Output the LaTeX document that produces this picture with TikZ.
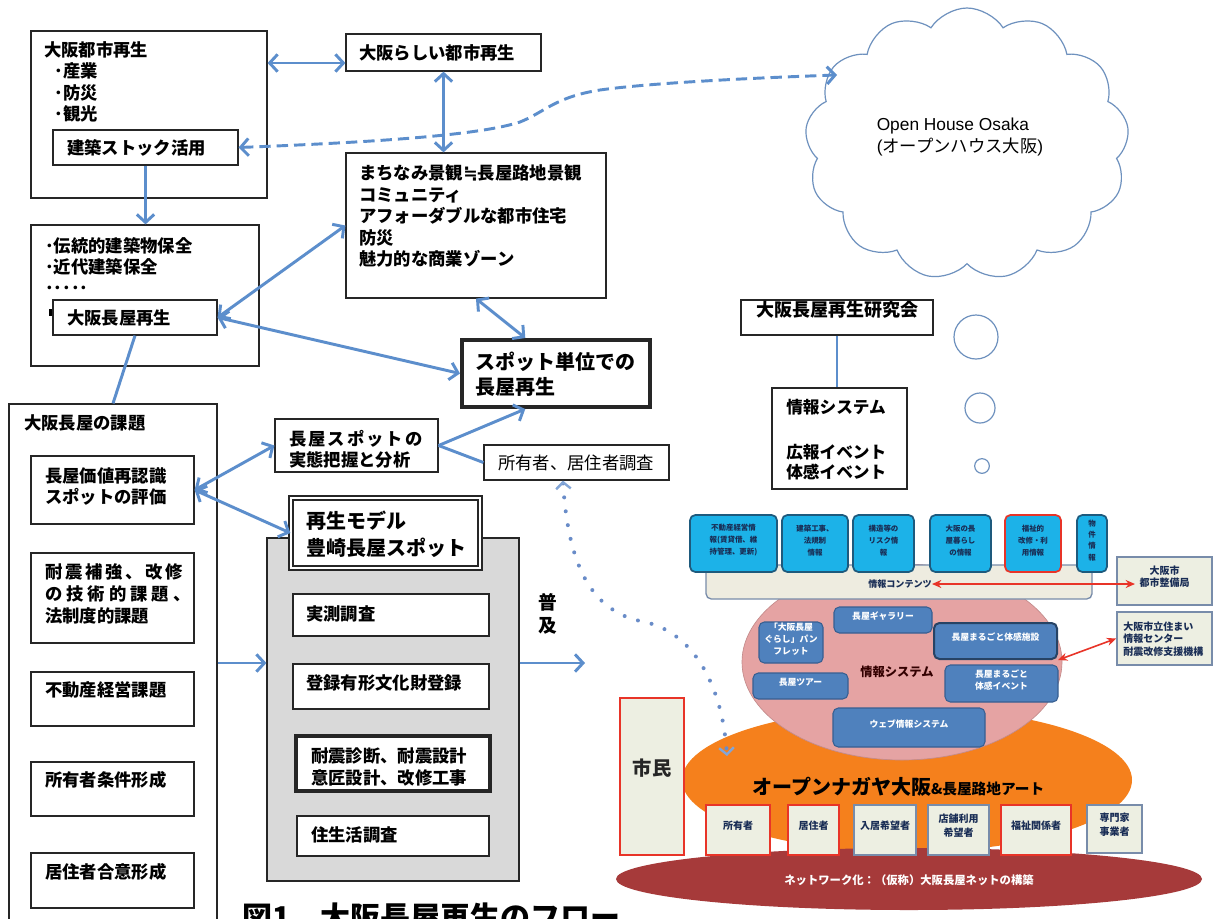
\documentclass[tikz,border=0pt]{standalone}
\usepackage{fontspec}
\setmainfont{Noto Sans CJK JP}
\newfontfamily\arialf{Liberation Sans}
\newfontfamily\dejavu{DejaVu Sans}
\usetikzlibrary{fit,arrows.meta,shapes.symbols,shapes.geometric,calc}
\definecolor{ablue}{RGB}{92,142,204}
\definecolor{dblue}{RGB}{105,140,200}
\definecolor{lblue}{RGB}{130,165,215}
\definecolor{cblue}{RGB}{110,145,190}
\definecolor{gfill}{RGB}{217,217,217}
\definecolor{cyanf}{RGB}{28,178,232}
\definecolor{cyand}{RGB}{30,90,125}
\definecolor{steelf}{RGB}{79,129,189}
\definecolor{steeld}{RGB}{55,95,145}
\definecolor{pinkf}{RGB}{229,163,163}
\definecolor{orangef}{RGB}{245,128,28}
\definecolor{dredf}{RGB}{166,58,58}
\definecolor{beigef}{RGB}{238,236,224}
\definecolor{bgray}{RGB}{120,140,170}
\definecolor{lboxf}{RGB}{237,239,226}
\definecolor{rred}{RGB}{232,52,40}
\definecolor{navy}{RGB}{25,45,85}
\newcommand\fsz[2]{\fontsize{#1}{#2}\selectfont}
\begin{document}
\begin{tikzpicture}[x=0.75pt,y=-0.75pt,
 box/.style={draw=black!85,line width=0.9pt,inner sep=0pt},
 wbox/.style={box,fill=white},
 tx/.style={inner sep=0pt,align=left,anchor=west,font=\fsz{13}{16}\bfseries},
 conn/.style={draw=ablue,line width=2.2pt},
 >={Straight Barb[length=6pt,width=13pt]},
 cyb/.style={draw=cyand,line width=1.3pt,fill=cyanf,rounded corners=4pt,inner sep=0pt,align=center,font=\fsz{5.6}{9}\bfseries,text=navy},
 stb/.style={draw=steeld,line width=0.8pt,fill=steelf,rounded corners=4pt,inner sep=0pt,align=center,font=\fsz{6.6}{9}\bfseries,text=white},
 lb/.style={fill=lboxf,line width=1.5pt,inner sep=0pt,align=center,font=\fsz{7.5}{10}\bfseries,text=navy},
 redarr/.style={draw=rred,line width=1.2pt,arrows={Stealth[length=7pt,width=6pt]-Stealth[length=7pt,width=6pt]}},
 bub/.style={circle,draw=cblue,line width=0.9pt,inner sep=0pt}
]
\useasboundingbox (0,0) rectangle (1213,918);
\fill[white] (0,0) rectangle (1213,918);

% ---------- left column ----------
\node[box,fit={(31,31)(267,198)}] (A) {};
\node[tx] (At) at (44,82) {大阪都市再生\\\hspace*{8pt}･産業\\\hspace*{8pt}･防災\\\hspace*{8pt}･観光};
\node[wbox,fit={(53,130)(238,165)}] (A2) {};
\node[tx] (A2t) at (67,148) {建築ストック活用};
\node[box,fit={(346,34)(541,71)}] (B) {};
\node[tx] (Bt) at (359,53) {大阪らしい都市再生};
\node[box,fit={(346,153)(606,298)}] (C) {};
\node[tx,font=\fsz{13}{16.1}\bfseries] (Ct) at (359,216) {まちなみ景観{\dejavu\bfseries ≒}長屋路地景観\\コミュニティ\\アフォーダブルな都市住宅\\防災\\魅力的な商業ゾーン};
\node[box,fit={(31,225)(259,366)}] (D) {};
\node[tx,font=\fsz{13}{15.75}\bfseries] (Dt) at (45,266) {･伝統的建築物保全\\･近代建築保全\\･････};
\fill (49,309) rectangle (53,316);
\node[wbox,fit={(53,300)(217,335)}] (D2) {};
\node[tx] (D2t) at (67,318) {大阪長屋再生};
\node[wbox,line width=3pt,fit={(462,340)(650,407)}] (E) {};
\node[tx,font=\fsz{15}{18.75}\bfseries] (Et) at (475,374.5) {スポット単位での\\長屋再生};

\node[box,fit={(9,404)(217,940)}] (K) {};
\node[tx] (Kt) at (24,423) {大阪長屋の課題};
\node[box,fit={(31,456)(194,524)}] (K1) {};
\node[tx] (K1t) at (45,486.5) {長屋価値再認識\\スポットの評価};
\node[box,fit={(31,553)(194,643)}] (K2) {};
\node[tx,font=\fsz{13}{16.5}\bfseries] (K2t) at (45,594) {\makebox[103pt]{耐\hfill 震\hfill 補\hfill 強\hfill 、\hfill 改\hfill 修}\\\makebox[109pt]{の\hfill 技\hfill 術\hfill 的\hfill 課\hfill 題\hfill 、}\\法制度的課題};
\node[box,fit={(31,672)(194,726)}] (K3) {};
\node[tx] (K3t) at (45,690) {不動産経営課題};
\node[box,fit={(31,762)(194,816)}] (K4) {};
\node[tx] (K4t) at (45,780) {所有者条件形成};
\node[box,fit={(31,853)(194,908)}] (K5) {};
\node[tx] (K5t) at (45,872) {居住者合意形成};

\node[box,fit={(275,419)(438,472)}] (J) {};
\node[tx] (Jt) at (289,449) {\makebox[100pt]{長\hfill 屋\hfill ス\hfill ポ\hfill ッ\hfill ト\hfill の}\\実態把握と分析};
\node[box,fit={(484,445)(669,480)}] (S) {};
\node[tx,font=\fsz{13}{16}] (St) at (498,463) {所有者、居住者調査};

\node[box,fill=gfill,fit={(267,538)(519,881)}] (G) {};
\node[box,double,double distance=2.2pt,fill=white,fit={(291,498)(480,568)}] (SM) {};
\node[tx,font=\fsz{15}{20}\bfseries] (SMt) at (306,534.5) {再生モデル\\豊崎長屋スポット};
\node[wbox,fit={(293,594)(489,636)}] (G1) {};
\node[tx] (G1t) at (306,614) {実測調査};
\node[wbox,fit={(293,664)(489,709)}] (G2) {};
\node[tx] (G2t) at (306,683) {登録有形文化財登録};
\node[wbox,line width=2.5pt,fit={(296,736)(490,791)}] (G3) {};
\node[tx,font=\fsz{13}{16.5}\bfseries] (G3t) at (311,767) {耐震診断、耐震設計\\意匠設計、改修工事};
\node[wbox,fit={(297,816)(489,856)}] (G4) {};
\node[tx] (G4t) at (311,835) {住生活調査};
\node[inner sep=0pt,align=center,font=\fsz{14}{17}\bfseries] (F) at (548,614) {普\\及};

\node[inner sep=0pt,anchor=west,font=\fsz{22.5}{26}\bfseries] (CAP) at (242,917) {図1　大阪長屋再生のフロー};

% ---------- cloud and bubbles ----------
\node[cloud,draw=cblue,line width=0.9pt,cloud puffs=13,cloud puff arc=115,aspect=1.19,minimum width=243pt,minimum height=204pt,inner sep=0pt] (OH) at (967,144) {};
\node[inner sep=0pt,align=left,font=\fsz{13}{16}] (OHt) at (960,137) {{\arialf Open House Osaka}\\{\arialf (}オープンハウス大阪{\arialf )}};
\node[bub,minimum size=33pt] (c1) at (976,337) {};
\node[bub,minimum size=22.5pt] (c2) at (980,408) {};
\node[bub,minimum size=11pt] (c3) at (982,466) {};

\node[box,fit={(741,300)(933,335)},font=\fsz{13.5}{16}\bfseries] (R) {大阪長屋再生研究会};
\node[box,fit={(772,388)(907,489)}] (I) {};
\node[tx,font=\fsz{12.5}{15}\bfseries] (It) at (786,439.5) {情報システム\\[18.75pt]広報イベント\\体感イベント};

% ---------- right diagram ----------
\node[ellipse,fill=orangef,minimum width=337.5pt,minimum height=108pt,inner sep=0pt] (OR) at (907,780) {};
\node[ellipse,fill=pinkf,draw=pinkf!85!black,line width=0.5pt,minimum width=240pt,minimum height=147pt,inner sep=0pt] (PK) at (902,662) {};
\node[fill=beigef,draw=bgray,line width=1pt,rounded corners=4pt,inner sep=0pt,fit={(706,565)(1092,599)}] (BAR) {};
\node[font=\fsz{6.8}{8}\bfseries,text=navy,inner sep=0pt] (BARt) at (900,584) {情報コンテンツ};
\node[cyb,fit={(690,515)(777,572)}] (cb1) {不動産経営情\\報(賃貸借、維\\持管理、更新)};
\node[cyb,fit={(782,515)(848,572)}] (cb2) {建築工事、\\法規制\\情報};
\node[cyb,fit={(853,515)(914,572)}] (cb3) {構造等の\\リスク情\\報};
\node[cyb,fit={(930,515)(991,572)}] (cb4) {大阪の長\\屋暮らし\\の情報};
\node[cyb,draw=rred,fit={(1005,515)(1061,572)}] (cb5) {福祉的\\改修・利\\用情報};
\node[cyb,fit={(1077,515)(1107,572)},font=\fsz{5.6}{8.5}\bfseries] (cb6) {物\\件\\情\\報};

\node[stb,fit={(759,622)(823,663)}] (s1) {「大阪長屋\\ぐらし」パン\\フレット};
\node[stb,fit={(834,607)(932,633)}] (s2) {長屋ギャラリー};
\node[stb,draw=steeld!70!black,line width=1.5pt,fit={(934,623)(1057,659)}] (s3) {長屋まるごと体感施設};
\node[stb,fit={(945,665)(1058,702)}] (s4) {長屋まるごと\\体感イベント};
\node[stb,fit={(753,673)(848,699)}] (s5) {長屋ツアー};
\node[stb,fit={(833,708)(985,747)}] (s6) {ウェブ情報システム};
\node[font=\fsz{9.2}{11}\bfseries,text=black!80!red,inner sep=0pt] (PKt) at (897,672) {情報システム};

\node[fill=lboxf,draw=bgray,line width=1.2pt,inner sep=0pt,align=center,font=\fsz{7.5}{9.5}\bfseries,text=navy,fit={(1117,557)(1212,605)}] (RB1) {大阪市\\都市整備局};
\node[fill=lboxf,draw=bgray,line width=1.2pt,inner sep=0pt,fit={(1117,612)(1212,665)}] (RB2) {};
\node[inner sep=0pt,anchor=west,align=left,font=\fsz{7.5}{9.4}\bfseries,text=navy] (RB2t) at (1123,639) {大阪市立住まい\\情報センター\\耐震改修支援機構};

\node[ellipse,fill=dredf,minimum width=439.5pt,minimum height=46.5pt,inner sep=0pt] (NW) at (909,879) {};
\node[font=\fsz{8.5}{10}\bfseries,text=white,inner sep=0pt] (NWt) at (909,880) {ネットワーク化：（仮称）大阪長屋ネットの構築};
\node[inner sep=0pt,anchor=west] (ORt) at (752,787) {{\fsz{15}{18}\bfseries オープンナガヤ大阪}{\fsz{11}{13}\bfseries\&長屋路地アート}};

\node[lb,draw=rred,fit={(706,805)(770,855)}] (b1) {所有者};
\node[lb,draw=rred,fit={(788,805)(839,855)}] (b2) {居住者};
\node[lb,draw=bgray,fit={(854,805)(916,855)}] (b3) {入居希望者};
\node[lb,draw=bgray,fit={(928,805)(989,855)}] (b4) {店舗利用\\希望者};
\node[lb,draw=rred,fit={(1001,805)(1071,855)}] (b5) {福祉関係者};
\node[lb,draw=bgray,fit={(1087,805)(1142,853)}] (b6) {専門家\\事業者};
\node[lb,draw=rred,line width=2pt,fit={(620,698)(684,855)},font=\fsz{14.5}{17}\bfseries,text=black!85] (SH) {市民};

% ---------- connectors ----------
\coordinate (aby) at (0,63);
\coordinate (hy) at (0,663);
\coordinate (fuend) at (585,663);
\coordinate (ohp) at (837,75);
\coordinate (dend) at (727,756);
\coordinate (ra1) at (1135,584);

\draw[conn,<->] (A.east |- aby) -- (B.west |- aby);
\draw[conn,<->] (B.south) -- (B.south |- C.north);
\draw[conn,->] (A2.south) -- (A2.south |- D.north);
\draw[conn,<->] (D2.east) -- (C.west);
\draw[conn,<->] (D2.east) -- (E.west);
\draw[conn,<->] (C.south) -- ($(E.north west)!0.34!(E.north east)$);
\draw[conn] (D2.south) -- (K.north);
\draw[conn,<->] (K1.east) -- (J.west);
\draw[conn,<->] (K1.east) -- (SM.west);
\draw[conn,->] (J.east) -- ($(E.south west)!0.34!(E.south east)$);
\draw[conn] (J.east) -- (S.west);
\draw[conn,->] (K.east |- hy) -- (G.west |- hy);
\draw[conn,->] (G.east |- hy) -- (fuend);
\draw[conn] (R.south) -- (R.south |- I.north);
\draw[conn,dash pattern=on 8.5pt off 4.5pt,<->] (A2.east) .. controls (380,142) and (480,135) .. (520,122) .. controls (545,112) and (555,97) .. (600,90) .. controls (650,83) and (750,78) .. (ohp);
\draw[draw=dblue,line width=3pt,dash pattern=on 0pt off 10.5pt,line cap=round,arrows={Straight Barb[length=5pt,width=11pt,line width=1.8pt,color=lblue]-Straight Barb[length=5pt,width=11pt,line width=1.8pt,color=lblue]}] ($(S.south west)!0.427!(S.south east)$) .. controls (568,560) and (588,612) .. (645,622) .. controls (690,632) and (722,680) .. (dend);
\draw[redarr] (BARt.east) -- (ra1);
\draw[redarr] (s3.south east) -- (RB2.west);
\end{tikzpicture}
\end{document}
